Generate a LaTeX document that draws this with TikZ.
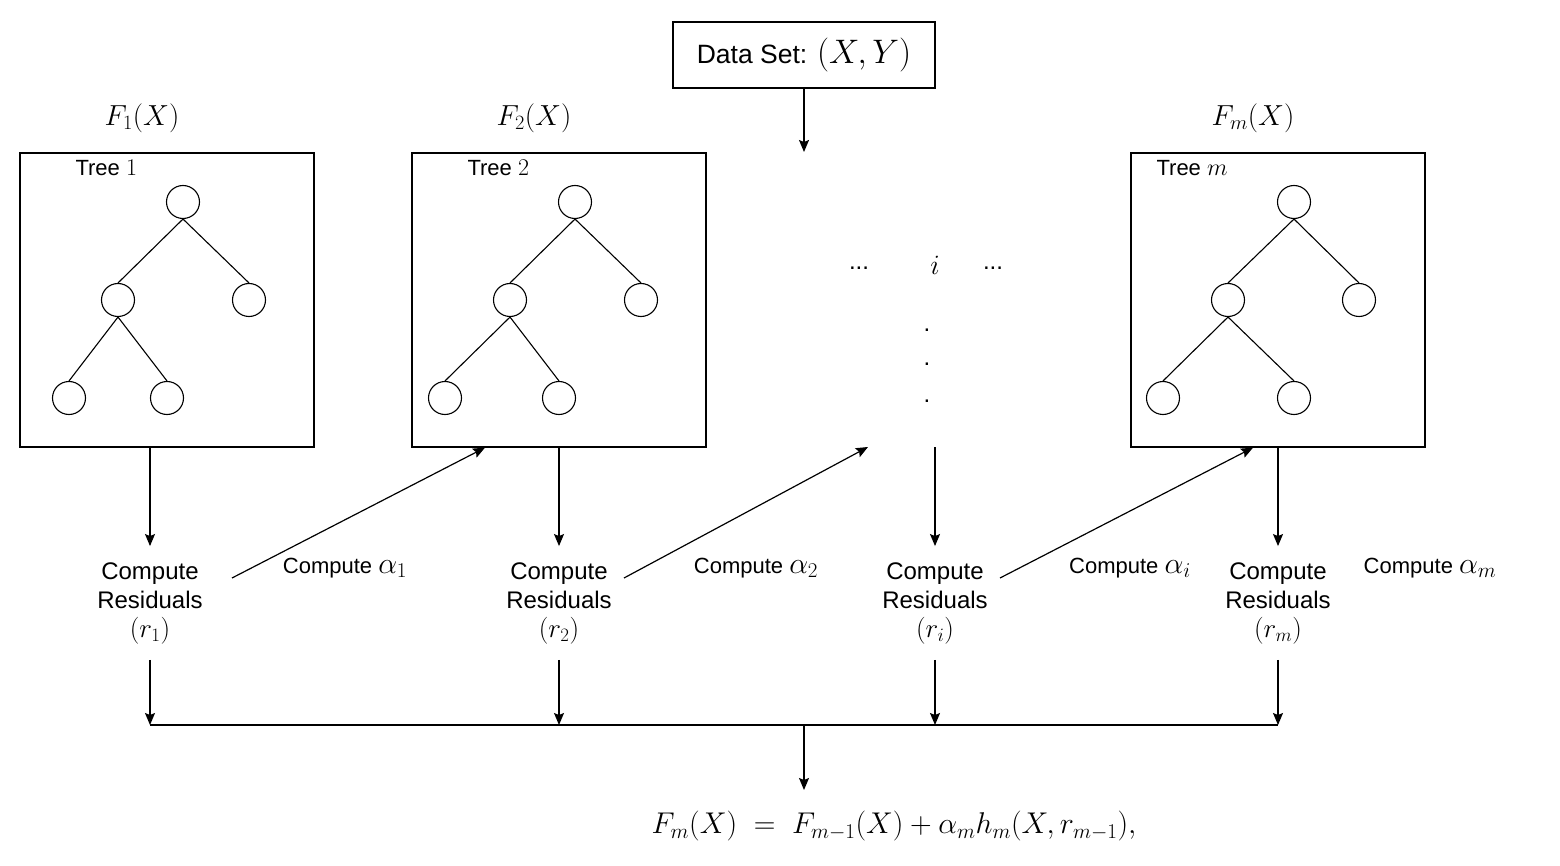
\RequirePackage{fix-cm}
\documentclass[tikz,border=0pt]{standalone}
\usepackage[no-math]{fontspec}
\setmainfont{Liberation Sans}
\usetikzlibrary{arrows.meta}
\newcommand{\mth}[2]{{\fontsize{#1}{#1}\selectfont$#2$}}
\begin{document}
\begin{tikzpicture}[x=1pt,y=-1pt,
  every node/.style={font=\fontsize{24}{29}\selectfont},
  line/.style={line width=1.2pt, black},
  arr/.style={line, -{Stealth[length=12pt,width=10pt,inset=2pt]}},
  treebox/.style={draw, line width=1.3pt, minimum width=294pt, minimum height=294pt, inner sep=0pt},
  tn/.style={draw, circle, minimum size=33pt, inner sep=0pt, line width=1.1pt},
  res/.style={align=center, inner xsep=28pt, inner ysep=16pt},
  lab/.style={font=\fontsize{22}{26}\selectfont},
  tl/.style={anchor=west, font=\fontsize{22}{26}\selectfont},
  tedge/.style={line width=1.1pt}]
\useasboundingbox (0,0) rectangle (1560,866);

% data set
\node[draw, line width=1.3pt, minimum width=262pt, minimum height=66pt, inner sep=0pt] (data) at (804,55)
  {\fontsize{26.5}{30}\selectfont Data Set: \mth{34}{(X,Y)}};
\coordinate (dataend) at (804,152);
\draw[arr] (data.south) -- (dataend);

% tree boxes
\node[treebox] (b1) at (167,300) {};
\node[treebox] (b2) at (559,300) {};
\node[treebox] (bm) at (1278,300) {};
\coordinate (bi) at (935,447);

\node (f1) at (142,118) {\mth{29}{F_1(X)}};
\node (f2) at (534,118) {\mth{29}{F_2(X)}};
\node (fm) at (1253,118) {\mth{29}{F_m(X)}};

\node[tl] (tl1) at (72,168) {Tree \mth{24}{1}};
\node[tl] (tl2) at (464,168) {Tree \mth{24}{2}};
\node[tl] (tlm) at (1153,168) {Tree \mth{24}{m}};

% tree 1
\node[tn] (t1r) at (183,202) {};
\node[tn] (t1a) at (118,300) {};
\node[tn] (t1b) at (249,300) {};
\node[tn] (t1c) at (69,398) {};
\node[tn] (t1d) at (167,398) {};
% tree 2
\node[tn] (t2r) at (575,202) {};
\node[tn] (t2a) at (510,300) {};
\node[tn] (t2b) at (641,300) {};
\node[tn] (t2c) at (445,398) {};
\node[tn] (t2d) at (559,398) {};
% tree m
\node[tn] (tmr) at (1294,202) {};
\node[tn] (tma) at (1228,300) {};
\node[tn] (tmb) at (1359,300) {};
\node[tn] (tmc) at (1163,398) {};
\node[tn] (tmd) at (1294,398) {};
\foreach \t in {t1,t2,tm}{
  \draw[tedge] (\t r.south) -- (\t a.north);
  \draw[tedge] (\t r.south) -- (\t b.north);
  \draw[tedge] (\t a.south) -- (\t c.north);
  \draw[tedge] (\t a.south) -- (\t d.north);
}

% dots
\node (dl) at (859,268) {...};
\node (di) at (935,265) {\mth{28}{i}};
\node (dr) at (993,268) {...};
\node[anchor=base, inner sep=0pt] (v1) at (927,331) {.};
\node[anchor=base, inner sep=0pt] (v2) at (927,366) {.};
\node[anchor=base, inner sep=0pt] (v3) at (927,402) {.};

% residual nodes
\node[res] (r1) at (150,603) {Compute\\Residuals\\\mth{27}{(r_1)}};
\node[res] (r2) at (559,603) {Compute\\Residuals\\\mth{27}{(r_2)}};
\node[res] (ri) at (935,603) {Compute\\Residuals\\\mth{27}{(r_i)}};
\node[res] (rm) at (1278,603) {Compute\\Residuals\\\mth{27}{(r_m)}};

\draw[arr] (r1.north |- b1.south) -- (r1.north);
\draw[arr] (r2.north |- b2.south) -- (r2.north);
\draw[arr] (bi) -- (ri.north);
\draw[arr] (rm.north |- bm.south) -- (rm.north);

% alpha labels
\node[lab] (a1) at (345,568) {Compute \mth{30}{\alpha_1}};
\node[lab] (a2) at (756,568) {Compute \mth{30}{\alpha_2}};
\node[lab] (ai) at (1130,568) {Compute \mth{30}{\alpha_i}};
\node[lab] (am) at (1430,568) {Compute \mth{30}{\alpha_m}};

% diagonal arrows
\draw[arr] ([shift={(82pt,25pt)}]r1.center) -- ([xshift=-74pt]b2.south);
\draw[arr] ([shift={(65pt,25pt)}]r2.center) -- ([xshift=-67pt]bi);
\draw[arr] ([shift={(65pt,25pt)}]ri.center) -- ([xshift=-25pt]bm.south);

% bus
\coordinate (busL) at (150,725);
\coordinate (busR) at (1278,725);
\coordinate (busM) at (804,725);
\draw[line] (busL) -- (busR);
\draw[arr] (r1.south) -- (r1.south |- busL);
\draw[arr] (r2.south) -- (r2.south |- busL);
\draw[arr] (ri.south) -- (ri.south |- busL);
\draw[arr] (rm.south) -- (rm.south |- busL);

% formula
\node[inner sep=0pt] (form) at (894,826) {\mth{30}{F_m(X)\;=\;F_{m-1}(X)+\alpha_m h_m(X,r_{m-1}),}};
\coordinate (formtop) at (804,790);
\draw[arr] (busM) -- (formtop);
\end{tikzpicture}
\end{document}
